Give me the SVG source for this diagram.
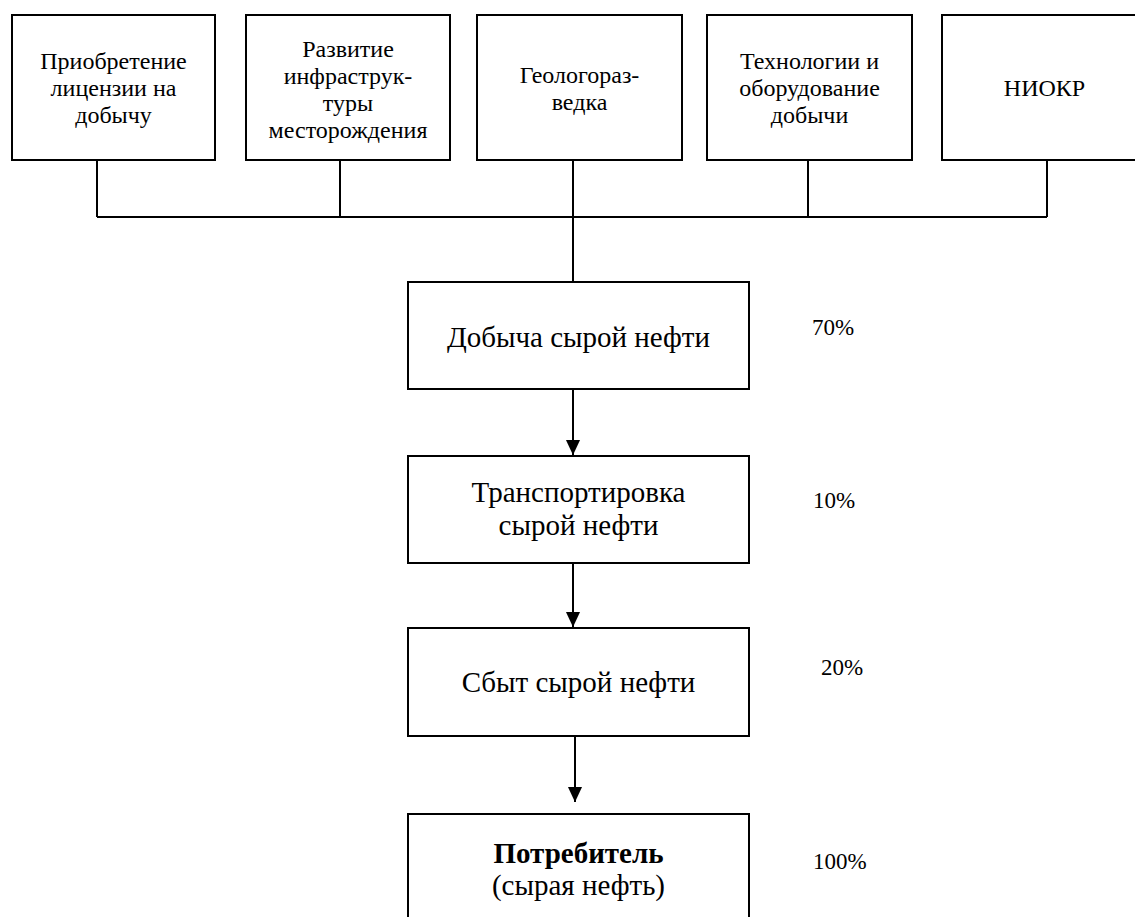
<svg xmlns="http://www.w3.org/2000/svg" width="1135" height="917" viewBox="0 0 1135 917">
<style>
text{font-family:'Liberation Serif','Times New Roman',Times,'DejaVu Serif',serif;fill:#000}
.box{fill:#fff;stroke:#000;stroke-width:2}
.t{font-size:24px;text-anchor:middle}
.m{font-size:29px;text-anchor:middle}
.p{font-size:23px}
.ln{fill:none;stroke:#000;stroke-width:2}
</style>
<defs>
<marker id="arr" markerWidth="15" markerHeight="16" refX="16" refY="7.5" orient="auto" markerUnits="userSpaceOnUse" viewBox="0 0 16 15">
<path d="M0,0 L16,7.5 L0,15 Z" fill="#000"/>
</marker>
</defs>
<rect width="1135" height="917" fill="#fff"/>
<g id="connectors">
<path class="ln" d="M97,160 V217 M340,160 V217 M573,160 V282 M808,160 V217 M1047,160 V217 M97,217 H1047"/>
<path class="ln" d="M573,389 V455" marker-end="url(#arr)"/>
<path class="ln" d="M573,563 V627" marker-end="url(#arr)"/>
<path class="ln" d="M575,736 V802" marker-end="url(#arr)"/>
</g>
<g id="n1">
<rect class="box" x="12" y="15" width="203" height="145"/>
<text class="t" x="113.5" y="69">Приобретение</text>
<text class="t" x="113.5" y="96">лицензии на</text>
<text class="t" x="113.5" y="123">добычу</text>
</g>
<g id="n2">
<rect class="box" x="246" y="15" width="204" height="145"/>
<text class="t" x="348" y="57">Развитие</text>
<text class="t" x="348" y="84">инфраструк-</text>
<text class="t" x="348" y="111">туры</text>
<text class="t" x="348" y="138">месторождения</text>
</g>
<g id="n3">
<rect class="box" x="477" y="15" width="205" height="145"/>
<text class="t" x="579.5" y="82.5">Геологораз-</text>
<text class="t" x="579.5" y="109.5">ведка</text>
</g>
<g id="n4">
<rect class="box" x="707" y="15" width="205" height="145"/>
<text class="t" x="809.5" y="69">Технологии и</text>
<text class="t" x="809.5" y="96">оборудование</text>
<text class="t" x="809.5" y="123">добычи</text>
</g>
<g id="n5">
<rect class="box" x="942" y="15" width="210" height="145"/>
<text class="t" x="1044.5" y="96">НИОКР</text>
</g>
<g id="n6">
<rect class="box" x="408" y="282" width="341" height="107"/>
<text class="m" x="578.5" y="347">Добыча сырой нефти</text>
</g>
<g id="n7">
<rect class="box" x="408" y="456" width="341" height="107"/>
<text class="m" x="578.5" y="502">Транспортировка</text>
<text class="m" x="578.5" y="535">сырой нефти</text>
</g>
<g id="n8">
<rect class="box" x="408" y="628" width="341" height="108"/>
<text class="m" x="578.5" y="692">Сбыт сырой нефти</text>
</g>
<g id="n9">
<rect class="box" x="408" y="814" width="341" height="120"/>
<text class="m" x="578.5" y="863" font-weight="bold">Потребитель</text>
<text class="m" x="578.5" y="895">(сырая нефть)</text>
</g>
<g id="labels">
<text class="p" x="812" y="335">70%</text>
<text class="p" x="813" y="508">10%</text>
<text class="p" x="821" y="675">20%</text>
<text class="p" x="813" y="869">100%</text>
</g>
</svg>
